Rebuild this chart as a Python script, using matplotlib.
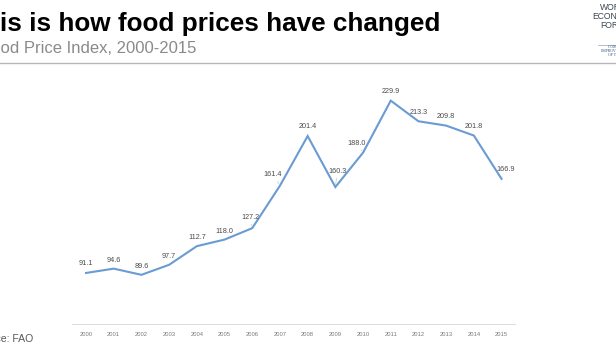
import matplotlib
matplotlib.use("Agg")
import matplotlib.pyplot as plt

plt.rcParams["font.family"] = ["Liberation Sans", "DejaVu Sans"]

# FAO Food Price Index, yearly averages
years = list(range(2000, 2016))
index_values = [91.1, 94.6, 89.6, 97.7, 112.7, 118.0, 127.2, 161.4,
                201.4, 160.3, 188.0, 229.9, 213.3, 209.8, 201.8, 166.9]

# where each value label sits relative to its point (pixels), and whether it has a leader line
label_offsets = [(0, 9), (0, 8), (0, 8), (0, 8.5), (0, 8.5), (0, 8), (-2, 11), (-7, 11),
                 (0, 9.5), (2, 16), (-6, 9.5), (0, 9.5), (0, 9), (0, 9), (0, 9), (4, 9)]
leaders = {2006, 2007, 2009, 2010, 2015}

LINE = "#6a9bd2"

fig = plt.figure(figsize=(6.16, 3.46), dpi=100)
fig.patch.set_facecolor("white")

# header
W, H = 616, 346
fig.text(-32 / W, 1 - 30.7 / H, "This is how food prices have changed", fontsize=18.8,
         fontweight="bold", color="black", ha="left", va="baseline")
fig.text(-19.3 / W, 1 - 52.7 / H, "Food Price Index, 2000-2015", fontsize=12,
         color="#8a8a8a", ha="left", va="baseline")
fig.add_artist(plt.Line2D([0, 1], [1 - 62.7 / H] * 2, color="#b8b8b8", linewidth=1.0))

# logo, clipped at the right edge like the original slide
for txt, y in [("WORLD", 7.5), ("ECONOMIC", 16.5), ("FORUM", 25.5)]:
    fig.text(616 / W, 1 - y / H, txt, fontsize=6.2, color="#3c4650", ha="center",
             va="center")
fig.add_artist(plt.Line2D([598 / W, 1], [1 - 44.5 / H] * 2, color="#7a8aa0", linewidth=0.4))
for txt, y in [("COMMITTED TO", 47), ("IMPROVING THE STATE", 51), ("OF THE WORLD", 55)]:
    fig.text(622 / W, 1 - y / H, txt, fontsize=2.8, family="Liberation Serif",
             color="#2f4f7a", ha="center", va="center")

fig.text(-27 / W, 1 - 342 / H, "Source: FAO", fontsize=7.6, color="#5a5a5a",
         ha="left", va="baseline")

# chart
ax = fig.add_axes([72.2 / W, 22 / H, 443.2 / W, 248.3 / H])
ax.plot(years, index_values, color=LINE, linewidth=1.5, solid_joinstyle="miter")
ax.set_xlim(1999.5, 2015.5)
ax.set_ylim(50, 250)

for yr, val, (dx, dy) in zip(years, index_values, label_offsets):
    props = None
    if yr in leaders:
        props = dict(arrowstyle="-", color="#c8c8c8", linewidth=0.5, shrinkA=0.5, shrinkB=1.5)
    ax.annotate(f"{val:.1f}", (yr, val), xytext=(dx, dy), textcoords="offset pixels",
                ha="center", va="center", fontsize=5.2, color="#4a4a4a", arrowprops=props)

ax.set_xticks(years)
ax.set_xticklabels([str(y) for y in years], fontsize=4.2, color="#7a7a7a")
ax.tick_params(axis="x", length=0, pad=6)
ax.set_yticks([])
for side in ["top", "left", "right"]:
    ax.spines[side].set_visible(False)
ax.spines["bottom"].set_color("#dedede")
ax.spines["bottom"].set_linewidth(0.8)
ax.patch.set_alpha(0)

fig.savefig("out.png", dpi=100)
